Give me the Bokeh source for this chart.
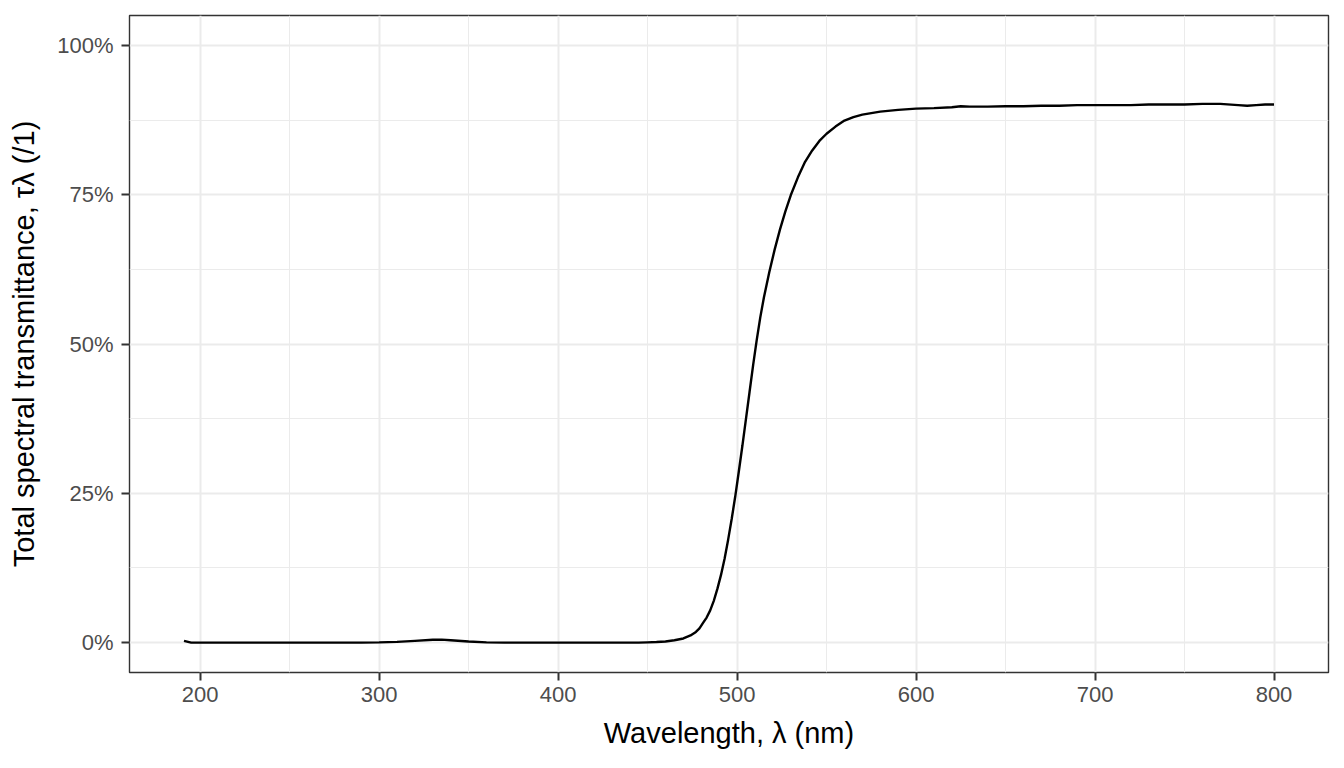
from bokeh.plotting import figure
from bokeh.models import Range1d, FixedTicker, NumeralTickFormatter
from bokeh.embed import file_html
from bokeh.resources import INLINE

# ---- data ----
wavelength = [191, 195, 200, 250, 290, 300, 310, 320, 330, 335, 340, 350, 360, 370,
              400, 440, 445, 450, 455, 460, 465, 470, 474, 477, 479, 481, 483, 485,
              487, 489, 491, 493, 495, 497, 499, 501, 503, 505, 507, 509, 511, 513,
              515, 518, 521, 524, 527, 530, 534, 538, 542, 546, 550, 555, 560, 565,
              570, 580, 590, 600, 610, 620, 625, 630, 640, 650, 660, 670, 680, 690,
              700, 710, 720, 730, 740, 750, 760, 770, 780, 785, 790, 795, 800]
transmittance = [0.003, 0.0, 0.0, 0.0, 0.0, 0.0005, 0.0012, 0.003, 0.0048, 0.005, 0.004,
                 0.0018, 0.0005, 0.0, 0.0, 0.0, 0.0, 0.0005, 0.001, 0.002, 0.004, 0.007,
                 0.012, 0.018, 0.024, 0.033, 0.042, 0.054, 0.07, 0.09, 0.113, 0.14,
                 0.172, 0.207, 0.245, 0.287, 0.33, 0.375, 0.42, 0.465, 0.507, 0.545,
                 0.578, 0.62, 0.658, 0.692, 0.722, 0.749, 0.779, 0.805, 0.824, 0.84,
                 0.852, 0.864, 0.874, 0.88, 0.884, 0.889, 0.892, 0.894, 0.895, 0.8965,
                 0.898, 0.8975, 0.8975, 0.898, 0.898, 0.899, 0.899, 0.9, 0.9, 0.9, 0.9,
                 0.901, 0.901, 0.901, 0.902, 0.902, 0.9, 0.899, 0.9, 0.901, 0.901]

x_major = [200, 300, 400, 500, 600, 700, 800]
x_minor = [250, 350, 450, 550, 650, 750]
y_major = [0.0, 0.25, 0.5, 0.75, 1.0]
y_minor = [0.125, 0.375, 0.625, 0.875]

x_title = "Wavelength, λ (nm)"
y_title = "Total spectral transmittance, τλ (/1)"

FONT = "Liberation Sans"
FRAME_W, FRAME_H = 1199, 657

x_lo, x_hi = min(wavelength), max(wavelength)
x_pad = (x_hi - x_lo) * 0.05
y_lo, y_hi = 0.0, 1.0
y_pad = (y_hi - y_lo) * 0.05

p = figure(frame_width=FRAME_W, frame_height=FRAME_H,
           min_border_left=129, min_border_right=8, min_border_top=15, min_border_bottom=88,
           x_range=Range1d(x_lo - x_pad, x_hi + x_pad),
           y_range=Range1d(y_lo - y_pad, y_hi + y_pad),
           output_backend="svg", toolbar_location=None,
           background_fill_color="white", border_fill_color="white")

p.outline_line_color = "#333333"
p.outline_line_width = 1.4
p.outline_line_alpha = 1.0

p.xaxis.ticker = FixedTicker(ticks=x_major, minor_ticks=x_minor)
p.yaxis.ticker = FixedTicker(ticks=y_major, minor_ticks=y_minor)
p.yaxis.formatter = NumeralTickFormatter(format="0%")

for ax in (p.xaxis, p.yaxis):
    ax.axis_line_color = None
    ax.major_tick_line_color = "#333333"
    ax.major_tick_line_width = 2
    ax.major_tick_out = 8
    ax.major_tick_in = 0
    ax.minor_tick_line_color = None
    ax.major_label_text_font = FONT
    ax.major_label_text_font_size = "22px"
    ax.major_label_text_color = "#4D4D4D"
    ax.axis_label_text_font = FONT
    ax.axis_label_text_font_size = "29px"
    ax.axis_label_text_font_style = "normal"
    ax.axis_label_text_color = "black"

p.xaxis.axis_label = x_title
p.xaxis.major_label_standoff = 6
p.xaxis.axis_label_standoff = 12
p.yaxis.axis_label = y_title
p.yaxis.major_label_standoff = 8
p.yaxis.axis_label_standoff = 14

for g in (p.xgrid, p.ygrid):
    g.grid_line_color = "#EBEBEB"
    g.grid_line_width = 2
    g.minor_grid_line_color = "#EBEBEB"
    g.minor_grid_line_width = 1

p.line(wavelength, transmittance, line_color="black", line_width=2.4)

open("out.html", "w").write(file_html(p, INLINE))
